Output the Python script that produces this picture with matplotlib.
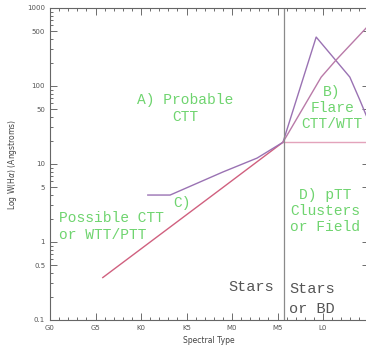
import numpy as np
import matplotlib
matplotlib.use("Agg")
import matplotlib.pyplot as plt
from matplotlib.ticker import FixedLocator, MultipleLocator, LogLocator, NullFormatter

# spectral type axis: one unit = 5 subtypes (G0=0, G5=1, K0=2, ... L0=6)
tick_pos = [0, 1, 2, 3, 4, 5, 6]
tick_lab = ["G0", "G5", "K0", "K5", "M0", "M5", "L0"]
ytick_val = [0.1, 0.5, 1, 5, 10, 50, 100, 500, 1000]
ytick_lab = ["0.1", "0.5", "1", "5", "10", "50", "100", "500", "1000"]

# saturation line (red) and the flat part past M6
sat_x = [1.16, 3.80, 5.12]
sat_y = [0.35, 5.0, 19.0]
flat_x = [5.12, 7.0]
flat_y = [19.0, 19.0]

# purple curve C -> peak
c_x = [2.15, 2.64, 3.80, 4.55, 5.12, 5.85, 6.59, 6.81, 6.95]
c_y = [4.0, 4.0, 7.9, 11.9, 19.0, 424, 130, 66, 42]

# pink-purple rising curve
b_x = [5.12, 5.96, 6.29, 6.95]
b_y = [19.0, 130, 216, 555]

border = 5.15  # stars / BD boundary

fig = plt.figure(figsize=(3.66, 3.56), dpi=100)
ax = fig.add_axes([50/366, 36/356, 318.5/366, 312/356])

ax.plot(sat_x, sat_y, color="#d0607f", lw=1.0)
ax.plot(flat_x, flat_y, color="#e3a3bb", lw=1.0)
ax.plot(c_x, c_y, color="#9a72b3", lw=1.0)
ax.plot(b_x, b_y, color="#b97aa8", lw=1.0)
ax.axvline(border, color="#8a8a8a", lw=0.9)

ax.set_yscale("log")
ax.set_xlim(0, 7)
ax.set_ylim(0.1, 1000)

ax.xaxis.set_major_locator(FixedLocator(tick_pos))
ax.set_xticklabels(tick_lab)
ax.xaxis.set_minor_locator(MultipleLocator(0.2))
ax.yaxis.set_major_locator(FixedLocator(ytick_val))
ax.set_yticklabels(ytick_lab)
ax.yaxis.set_minor_locator(LogLocator(base=10, subs=np.arange(2, 10)))
ax.yaxis.set_minor_formatter(NullFormatter())

ax.tick_params(which="both", direction="in", top=True, right=True,
               colors="#555555", labelsize=5, width=0.6)
ax.tick_params(which="major", length=5)
ax.tick_params(which="minor", length=2.5)
for s in ax.spines.values():
    s.set_color("#666666")
    s.set_linewidth(0.8)

ax.set_xlabel("Spectral Type", fontsize=5.5, color="#444444", labelpad=4)
ax.set_ylabel("Log W(H$\\alpha$) (Angstroms)", fontsize=5.5, color="#444444", labelpad=6)

green = "#6fd46f"
mono = "Liberation Mono"
ls = 1.2
ax.text(2.98, 51.5, "A) Probable\nCTT", color=green, fontsize=10.5, family=mono,
        ha="center", va="center", linespacing=ls)
ax.text(6.2, 52, "B)\nFlare\nCTT/WTT", color=green, fontsize=10.5, family=mono,
        ha="center", va="center", linespacing=ls)
ax.text(2.9, 3.16, "C)", color=green, fontsize=10.5, family=mono,
        ha="center", va="center")
ax.text(0.2, 1.58, "Possible CTT\nor WTT/PTT", color=green, fontsize=10.5, family=mono,
        ha="left", va="center", linespacing=ls)
ax.text(6.05, 2.5, "D) pTT\nClusters\nor Field", color=green, fontsize=10.5, family=mono,
        ha="center", va="center", linespacing=ls)
ax.text(4.93, 0.265, "Stars", color="#555555", fontsize=11, family=mono,
        ha="right", va="center")
ax.text(5.25, 0.185, "Stars\nor BD", color="#555555", fontsize=11, family=mono,
        ha="left", va="center", linespacing=1.6)

fig.savefig("out.png", dpi=100)
